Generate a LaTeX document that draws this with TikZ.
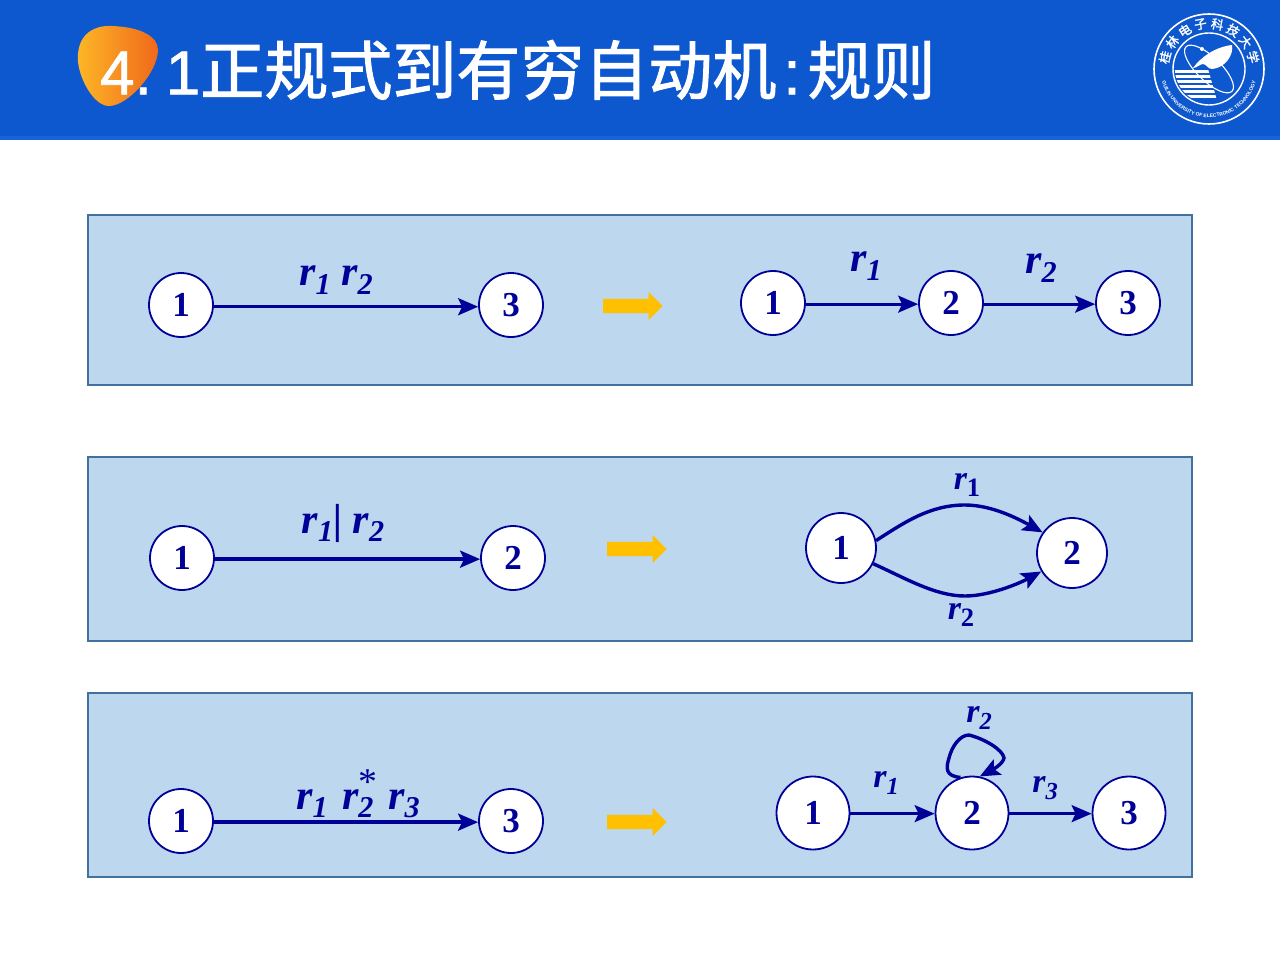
\documentclass[tikz,border=0pt]{standalone}
\usepackage{fontspec}
\setmainfont{Liberation Serif}
\newfontfamily\cjkfont{Noto Sans CJK SC}
\newfontfamily\cjkheavy[FakeBold=1.6]{Noto Sans CJK SC}
\newfontfamily\headfont{Liberation Sans}
\newfontfamily\headheavy[FakeBold=1.2]{Liberation Sans}
\usetikzlibrary{arrows.meta,shapes.arrows,decorations.text}
\newcommand{\rterm}[1]{r\raisebox{-0.2em}{\fontsize{0.72em}{1em}\selectfont #1}}
\newcommand{\rupright}[1]{r\raisebox{-0.22em}{\fontsize{0.78em}{1em}\selectfont\upshape #1}}
\newcommand{\rstar}[1]{r\rlap{\raisebox{-0.2em}{\fontsize{0.72em}{1em}\selectfont #1}}\raisebox{0.36em}{\fontsize{0.9em}{1em}\selectfont\mdseries\upshape *}\kern0.06em}

\begin{document}
\begin{tikzpicture}[
x=1pt,y=-1pt,
statenode/.style={circle, draw=navyline, fill=white, line width=1.8pt, inner sep=0pt, minimum size=64pt, text=navyline, font=\fontsize{35}{35}\selectfont\bfseries},
widenode/.style={statenode, minimum size=70pt},
bignode/.style={statenode, minimum size=73pt},
panelbox/.style={draw=panelline, fill=panelfill, line width=1.5pt},
edgeline/.style={draw=navyline, line width=3.4pt, -{Stealth[length=20pt,width=17pt,inset=4pt]}},
thinedge/.style={edgeline, line width=2.8pt},
biglabel/.style={text=navyline, inner sep=0pt, font=\fontsize{42}{42}\selectfont\bfseries\itshape},
smalllabel/.style={text=navyline, inner sep=0pt, font=\fontsize{34}{34}\selectfont\bfseries\itshape},
yellowarrow/.style={single arrow, anchor=tip, fill=arrowgold, inner sep=0pt, text width=52pt, text height=14pt, text depth=0pt, single arrow head extend=7pt, single arrow head indent=0pt}
]
\definecolor{headblue}{RGB}{13,88,207}
\definecolor{headedge}{RGB}{20,100,218}
\definecolor{panelfill}{RGB}{189,215,238}
\definecolor{panelline}{RGB}{65,113,156}
\definecolor{navyline}{RGB}{0,0,153}
\definecolor{arrowgold}{RGB}{255,192,0}
\definecolor{blobyellow}{RGB}{253,184,39}
\definecolor{blobred}{RGB}{241,104,27}

\useasboundingbox (0,0) rectangle (1280,960);
\fill[white] (0,0) rectangle (1280,960);
\fill[headblue] (0,0) rectangle (1280,140);
\fill[headedge] (0,136) rectangle (1280,140);

\shade[left color=blobyellow, right color=blobred]
(78,62) .. controls (76,36) and (92,25) .. (112,26) .. controls (140,27) and (158,36) .. (158,50)
.. controls (158,72) and (128,106) .. (109,106) .. controls (94,106) and (80,80) .. (78,62) -- cycle;
\node[anchor=west, text=white, inner sep=0pt, font=\fontsize{62}{62}\headheavy] (headline) at (100,70)
{4.\kern14pt 1{\cjkheavy\fontsize{64}{64}\selectfont 正规式到有穷自动机}\kern7pt:\kern7pt{\cjkheavy\fontsize{64}{64}\selectfont 规则}};

\begin{scope}[shift={(1209,69)},x=1pt,y=1pt]
\draw[white, line width=1.6pt] (0,0) circle (55);
\draw[white, line width=1.4pt] (0,0) circle (36);
\foreach \ch [count=\i from 0] in {桂,林,电,子,科,技,大,学}{
\node[text=white, inner sep=0pt, rotate=75-\i*21.4, font=\fontsize{12.5}{12.5}\cjkheavy] at (165-\i*21.4:45.5) {\ch};
}
\path[decorate, decoration={text along path, text align=center,
text={|\fontsize{5}{5}\headfont\bfseries\color{white}|GUILIN UNIVERSITY OF ELECTRONIC TECHNOLOGY}}]
(184:48.5) arc (184:356:48.5);
\begin{scope}
\clip (-35,0) -- (-1,0) -- (9,-35) -- (-35,-35) -- cycle;
\clip (0,0) circle (34);
\foreach \yy in {-1,-6,-11,-16,-21,-26}{
\fill[white] (-36,\yy) rectangle (12,\yy-3);
}
\end{scope}
\fill[white] (-16,1) .. controls (-8,12) and (6,22) .. (23,24) .. controls (25,14) and (16,1) .. (3,0) .. controls (-1,0) and (-3,5) .. (-6,5) .. controls (-9,5) and (-12,1) .. (-16,1) -- cycle;
\draw[white, line width=1.1pt, rotate=-44] (0,0) ellipse (32 and 12);
\fill[white] (-7,20) circle (2);
\end{scope}

\node[panelbox, minimum width=1104pt, minimum height=170pt, inner sep=0pt] (panelA) at (640,300) {};
\node[panelbox, minimum width=1104pt, minimum height=184pt, inner sep=0pt] (panelB) at (640,549) {};
\node[panelbox, minimum width=1104pt, minimum height=184pt, inner sep=0pt] (panelC) at (640,785) {};

\node[statenode] (a1) at (181,305) {1};
\node[statenode] (a3) at (511,305) {3};
\draw[edgeline] (a1.-3) -- (a3.183);
\node[biglabel] (alabel) at (336,280) {\rterm{1} \rterm{2}};
\node[yellowarrow] (aarrow) at (663,306) {};
\node[statenode] (b1) at (773,303) {1};
\node[statenode] (b2) at (951,303) {2};
\node[statenode] (b3) at (1128,303) {3};
\draw[thinedge] (b1.-2) -- (b2.182);
\draw[thinedge] (b2.-2) -- (b3.182);
\node[biglabel] (blabel) at (866,266) {\rterm{1}};
\node[biglabel] (clabel) at (1041,268) {\rterm{2}};

\node[statenode] (d1) at (182,558) {1};
\node[statenode] (d2) at (513,558) {2};
\draw[edgeline] (d1.-2) -- (d2.182);
\node[biglabel] (dlabel) at (343,523) {\rterm{1}| \rterm{2}};
\node[yellowarrow] (darrow) at (667,549) {};
\node[widenode] (e1) at (841,548) {1};
\node[widenode] (e2) at (1072,553) {2};
\draw[edgeline] (e1.12) .. controls (905,522) and (930,505) .. (965,505) .. controls (990,505) and (1015,517) .. (e2.145);
\draw[edgeline] (e1.-26) .. controls (905,578) and (935,596) .. (965,596) .. controls (990,596) and (1020,583) .. (e2.211);
\node[smalllabel] (elabel) at (967,485) {\rupright{1}};
\node[smalllabel] (flabel) at (961,615) {\rupright{2}};

\node[statenode] (g1) at (181,821) {1};
\node[statenode] (g3) at (511,821) {3};
\draw[edgeline] (g1.-2) -- (g3.182);
\node[biglabel] (glabel) at (358,794) {\rterm{1}\kern0.34em\rstar{2}\kern0.2em\rterm{3}};
\node[yellowarrow] (garrow) at (667,822) {};
\node[bignode] (h1) at (813,813) {1};
\node[bignode] (h2) at (972,813) {2};
\node[bignode] (h3) at (1129,813) {3};
\draw[thinedge] (h1.-1) -- (h2.181);
\draw[thinedge] (h2.-1) -- (h3.181);
\draw[edgeline] (h2.108) .. controls (945,776) and (946,768) .. (949,758) .. controls (952,746) and (960,735) .. (969,735) .. controls (985,739) and (1003,750) .. (1004,758) .. controls (1003,764) and (992,770) .. (h2.78);
\node[smalllabel] (hlabel) at (886,783) {\rterm{1}};
\node[smalllabel] (ilabel) at (979,718) {\rterm{2}};
\node[smalllabel] (jlabel) at (1045,788) {\rterm{3}};
\end{tikzpicture}
\end{document}
